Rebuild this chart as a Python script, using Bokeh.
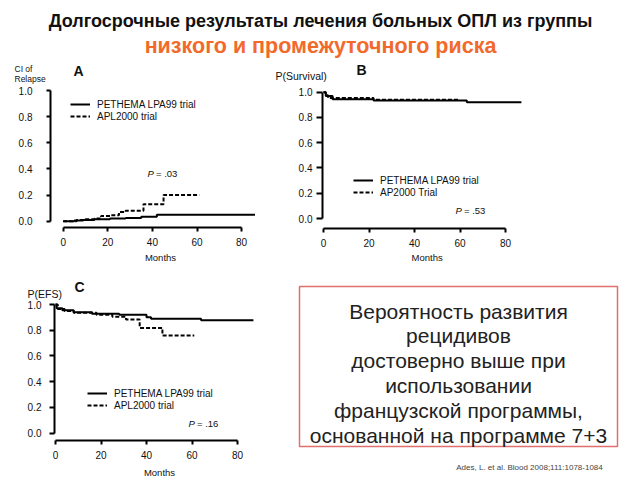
from bokeh.plotting import figure
from bokeh.layouts import column, row
from bokeh.models import (Range1d, FixedTicker, Legend, LegendItem,
                          NumeralTickFormatter, ColumnDataSource)
from bokeh.core.properties import value
from bokeh.embed import file_html
from bokeh.resources import INLINE

FONT = "Liberation Sans"

# ---------------- data ----------------
title_lines = ["Долгосрочные результаты лечения больных ОПЛ из группы",
               "низкого и промежуточного риска"]

x_ticks = [0, 20, 40, 60, 80]
y_ticks = [0.0, 0.2, 0.4, 0.6, 0.8, 1.0]

# Panel A: cumulative incidence of relapse
a_lpa_months = [0, 5, 9, 14, 21, 28, 35, 42, 86]
a_lpa_ci = [0.0, 0.005, 0.01, 0.015, 0.02, 0.025, 0.035, 0.05, 0.05]
a_apl_months = [0, 6, 10, 14, 17, 21, 25, 28, 36, 45, 61]
a_apl_ci = [0.0, 0.01, 0.015, 0.02, 0.04, 0.045, 0.07, 0.08, 0.13, 0.20, 0.20]

# Panel B: survival
b_lpa_months = [0, 1, 4, 22, 63, 87]
b_lpa_surv = [1.0, 0.97, 0.945, 0.935, 0.92, 0.92]
b_apl_months = [0, 1, 2, 22, 60]
b_apl_surv = [1.0, 0.975, 0.955, 0.94, 0.94]

# Panel C: event-free survival
c_lpa_months = [0, 0.5, 3, 8, 16, 28, 40, 42, 64, 87]
c_lpa_efs = [1.0, 0.97, 0.955, 0.94, 0.928, 0.92, 0.9, 0.889, 0.878, 0.878]
c_apl_months = [0, 1, 4, 8, 18, 25, 31, 37, 47, 61]
c_apl_efs = [1.0, 0.965, 0.95, 0.935, 0.92, 0.905, 0.883, 0.818, 0.76, 0.76]

box_lines = ["Вероятность развития", "рецидивов", "достоверно выше при",
             "использовании", "французской программы,",
             "основанной на программе 7+3"]
citation = "Ades, L. et al. Blood 2008;111:1078-1084"


# ---------------- helpers ----------------
def style_blank(f):
    f.grid.visible = False
    f.outline_line_color = None
    f.background_fill_color = "white"
    f.border_fill_color = "white"


def text_fig(x0, x1, y0, y1):
    """Blank figure whose frame is the whole canvas, in page pixels."""
    f = figure(width=x1 - x0, height=y1 - y0, x_range=Range1d(x0, x1),
               y_range=Range1d(y1, y0), output_backend="svg",
               toolbar_location=None, x_axis_location=None,
               y_axis_location=None, min_border=0, min_border_left=0,
               min_border_right=0, min_border_top=0, min_border_bottom=0)
    style_blank(f)
    return f


def put(f, x, y, text, size="9.5px", style="normal", align="left",
        color="#111111", baseline="middle"):
    f.text(x=[x], y=[y], text=[text], text_font=value(FONT),
           text_font_size=value(size), text_font_style=style,
           text_align=align, text_baseline=baseline, text_color=color)


def make_panel(fig_box, axis_px, x0px, xs, y0px, ys, tick_out_y, standoff_y):
    """Panel whose frame fills the canvas; axes drawn at fixed locations."""
    fx0, fy0, fw, fh = fig_box
    axx, axy = axis_px
    xr = Range1d((fx0 - x0px) / xs, (fx0 + fw - x0px) / xs)
    yr = Range1d((y0px - (fy0 + fh)) / ys, (y0px - fy0) / ys)
    p = figure(width=fw, height=fh, x_range=xr, y_range=yr,
               output_backend="svg", toolbar_location=None,
               min_border=0, min_border_left=0, min_border_right=0,
               min_border_top=0, min_border_bottom=0)
    style_blank(p)
    p.xaxis.fixed_location = (y0px - axy) / ys
    p.yaxis.fixed_location = (axx - x0px) / xs
    p.xaxis.ticker = FixedTicker(ticks=x_ticks)
    p.xaxis.bounds = (0, 80)
    p.yaxis.ticker = FixedTicker(ticks=y_ticks)
    p.yaxis.bounds = (0, 1)
    p.yaxis.formatter = NumeralTickFormatter(format="0.0")
    for ax in p.axis:
        ax.axis_line_width = 2
        ax.axis_line_color = "black"
        ax.major_tick_line_width = 2
        ax.major_tick_line_color = "black"
        ax.major_tick_in = 0
        ax.minor_tick_in = 0
        ax.minor_tick_out = 0
        ax.major_label_text_font = FONT
        ax.major_label_text_font_size = "10px"
        ax.major_label_text_color = "#111111"
    p.xaxis.major_tick_out = 4
    p.xaxis.major_label_standoff = 6
    p.yaxis.major_tick_out = tick_out_y
    p.yaxis.major_label_standoff = standoff_y

    def lab(X, Y, text, size="9.5px", style="normal", align="left"):
        p.text(x=[(X - x0px) / xs], y=[(y0px - Y) / ys], text=[text],
               text_font=value(FONT), text_font_size=value(size),
               text_font_style=style, text_baseline="middle",
               text_align=align, text_color="#111111")
    return p, lab


def add_curves(p, mx1, v1, mx2, v2, labels, loc):
    r1 = p.step(mx1, v1, mode="after", line_width=2, line_color="black")
    r2 = p.step(mx2, v2, mode="after", line_width=2, line_color="black",
                line_dash="4 2")
    leg = Legend(items=[LegendItem(label=labels[0], renderers=[r1]),
                        LegendItem(label=labels[1], renderers=[r2])],
                 location=loc, border_line_color=None,
                 background_fill_alpha=0, label_text_font=FONT,
                 label_text_font_size="10px", label_text_color="#111111",
                 glyph_width=20, glyph_height=12, label_height=12,
                 spacing=0, padding=0, margin=0, label_standoff=7)
    p.add_layout(leg)


# ---------------- title ----------------
top = text_fig(0, 640, 0, 60)
put(top, 320, 20, title_lines[0], size="18px", style="bold", align="center")
put(top, 320, 45, title_lines[1], size="21.5px", style="bold", align="center",
    color="#F26A2A")

# ---------------- panel A ----------------
pa, la = make_panel((0, 60, 270, 210), (50, 227),
                    62.7, 2.23, 220.7, 130.7, 4, 14)
add_curves(pa, a_lpa_months, a_lpa_ci, a_apl_months, a_apl_ci,
           ["PETHEMA LPA99 trial", "APL2000 trial"], (70, 148))
la(14, 68, "CI of", size="8.5px")
la(14, 78.7, "Relapse", size="8.5px")
la(73, 70.5, "A", size="14px", style="bold")
la(147, 172.5, "P", style="italic")
la(155.5, 172.5, "= .03")
la(160, 256.7, "Months", align="center")

# ---------------- panel B ----------------
pb, lb = make_panel((270, 60, 370, 210), (322, 228),
                    323, 2.275, 218, 126.3, 6, 4)
add_curves(pb, b_lpa_months, b_lpa_surv, b_apl_months, b_apl_surv,
           ["PETHEMA LPA99 trial", "AP2000 Trial"], (83, 72))
lb(275, 75.7, "P(Survival)", size="10.5px")
lb(356, 69, "B", size="14px", style="bold")
lb(455, 210, "P", style="italic")
lb(463.5, 210, "= .53")
lb(426.7, 256.7, "Months", align="center")

# ---------------- panel C ----------------
pc, lc = make_panel((0, 270, 290, 210), (54, 440),
                    55, 2.275, 432.7, 128.7, 5, 8)
add_curves(pc, c_lpa_months, c_lpa_efs, c_apl_months, c_apl_efs,
           ["PETHEMA LPA99 trial", "APL2000 trial"], (87, 69))
lc(27, 293.3, "P(EFS)", size="10.5px")
lc(74, 286, "C", size="14px", style="bold")
lc(188, 423, "P", style="italic")
lc(196.5, 423, "= .16")
lc(159, 471.5, "Months", align="center")

# ---------------- text box ----------------
bp = text_fig(290, 640, 270, 480)
bp.quad(left=[299], right=[617], top=[286], bottom=[446], fill_color=None,
        line_color="#E07070", line_width=1.5)
bsrc = ColumnDataSource(dict(x=[458] * len(box_lines),
                             y=[310.5 + 24.9 * i for i in range(len(box_lines))],
                             text=box_lines))
bp.text(x="x", y="y", text="text", source=bsrc, text_font=value(FONT),
        text_font_size="21px", text_color="#222222", text_align="center",
        text_baseline="alphabetic")
put(bp, 529, 467, citation, size="8px", align="center", color="#444444")

layout = column(top, row(pa, pb), row(pc, bp))
open("out.html", "w").write(file_html(layout, INLINE))
